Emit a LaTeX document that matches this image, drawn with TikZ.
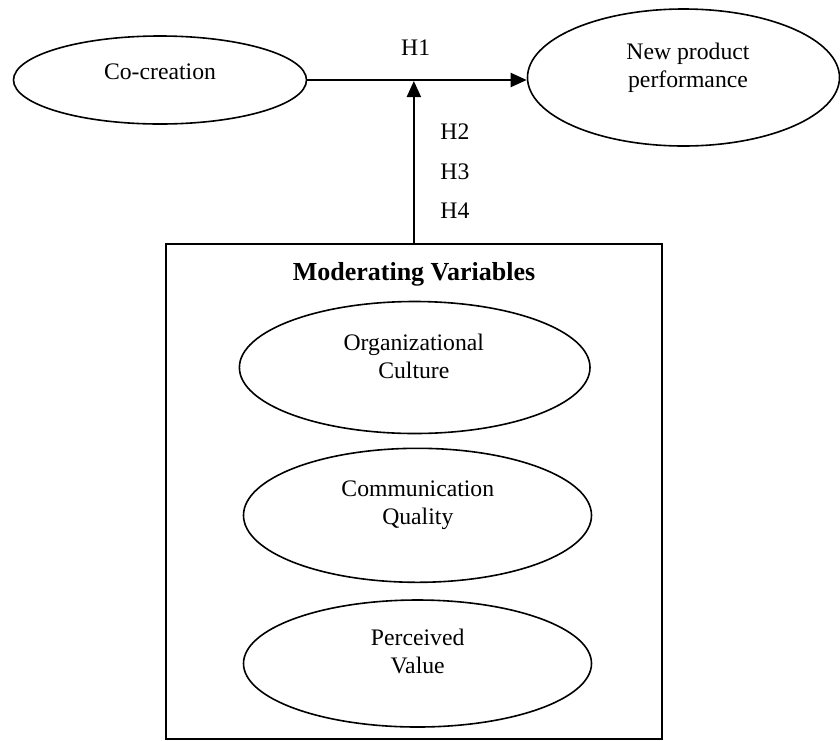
\documentclass[tikz,border=0pt]{standalone}
\usepackage{fontspec}
\setmainfont{Liberation Serif}
\usetikzlibrary{shapes.geometric,arrows.meta}
\begin{document}
\begin{tikzpicture}[x=0.5pt,y=-0.5pt,
  txt/.style={font=\fontsize{11.85}{14}\selectfont, inner sep=0pt, anchor=base},
  oval/.style={draw, ellipse, line width=0.8pt, inner sep=0pt},
  link/.style={line width=1pt, -{Triangle[length=8pt,width=7pt]}}]
\useasboundingbox (0,0) rectangle (840,740);

% outer constructs
\node[oval, minimum width=146.5pt, minimum height=44pt] (cc) at (160,80) {};
\node[oval, minimum width=156pt, minimum height=68.5pt] (npp) at (683.5,77.5) {};
\node[txt] at (160,79) {Co-creation};
\node[txt] at (688,59.3) {\begin{tabular}[t]{@{}c@{}}New product\\performance\end{tabular}};

% moderators box
\node[draw, line width=1pt, rectangle, minimum width=248.15pt, minimum height=247.5pt, inner sep=0pt] (mod) at (413.85,491.5) {};
\node[txt, font=\fontsize{13}{15}\selectfont\bfseries] at (414,280.7) {Moderating Variables};

\node[oval, minimum width=175.3pt, minimum height=66pt] (oc) at (414.7,367.5) {};
\node[oval, minimum width=174pt, minimum height=67pt] (cq) at (417.5,515.3) {};
\node[oval, minimum width=174pt, minimum height=63.5pt] (pv) at (417.5,663.5) {};
\node[txt] at (413.8,350.7) {\begin{tabular}[t]{@{}c@{}}Organizational\\Culture\end{tabular}};
\node[txt] at (417.8,496.7) {\begin{tabular}[t]{@{}c@{}}Communication\\Quality\end{tabular}};
\node[txt] at (417.7,645) {\begin{tabular}[t]{@{}c@{}}Perceived\\Value\end{tabular}};

% paths
\coordinate (j) at (mod.north |- cc.east);
\draw[link] (cc.east) -- (npp.west |- cc.east);
\draw[link] (mod.north) -- ([yshift=-0.5pt]j);

% hypothesis labels
\node[txt] at (415.7,55) {H1};
\node[txt, anchor=base west] at (440,139) {H2};
\node[txt, anchor=base west] at (440,179) {H3};
\node[txt, anchor=base west] at (440,218) {H4};
\end{tikzpicture}
\end{document}
